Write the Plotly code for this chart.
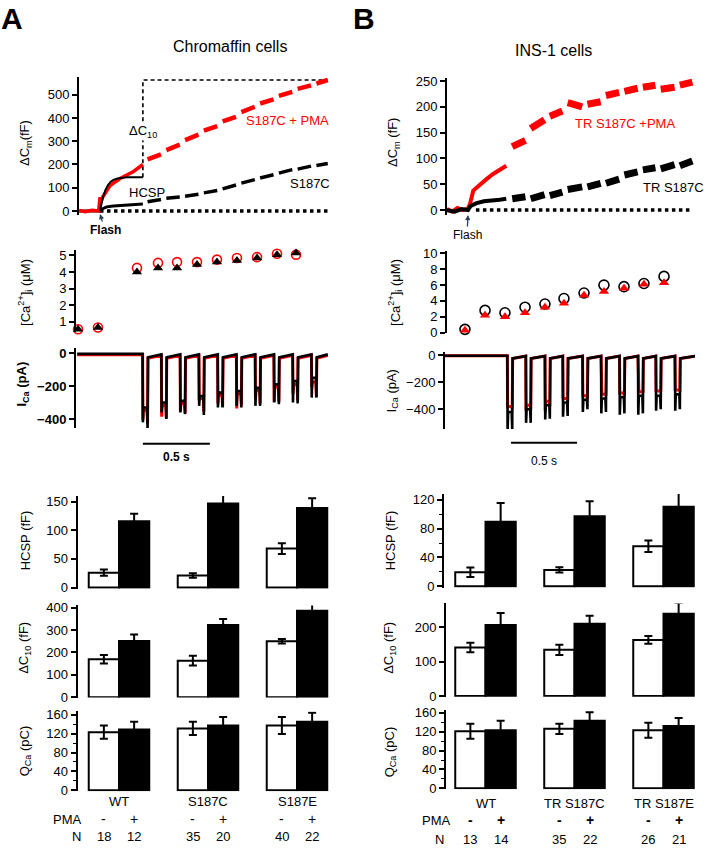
import plotly.graph_objects as go

W, H = 706, 853
FONT = "Liberation Sans, Arial, Helvetica, sans-serif"
RED = "#ff0000"

# ======================= DATA =======================
# ---- Panel A (chromaffin cells); time in s relative to flash ----
A_cm_red_early_t = [-0.155, -0.11, -0.06, -0.01, 0.0, 0.004, 0.02, 0.075, 0.15, 0.25, 0.32]
A_cm_red_early_v = [2, -3, 3, 0, 60, 35, 60, 110, 140, 170, 200]
A_cm_blk_early_t = [-0.155, 0.0, 0.02, 0.05, 0.10, 0.20, 0.32]
A_cm_blk_early_v = [0, 0, 10, 18, 22, 27, 30]
A_fit_t = [0, 0.01, 0.02, 0.04, 0.06, 0.08, 0.10, 0.13, 0.16, 0.20, 0.32]
A_fit_v = [0, 30, 55, 90, 112, 126, 134, 140, 143, 145, 145]
A_seg_t0 = [0.355, 0.495, 0.635, 0.775, 0.915, 1.055, 1.195, 1.335, 1.475, 1.615]
A_seg_t1 = [0.455, 0.595, 0.735, 0.875, 1.015, 1.155, 1.295, 1.435, 1.575, 1.700]
A_red_seg_v0 = [222, 262, 305, 345, 385, 425, 462, 495, 525, 548]
A_red_seg_v1 = [243, 285, 328, 365, 405, 448, 480, 512, 540, 563]
A_blk_seg_v0 = [40, 55, 64, 78, 95, 120, 142, 163, 180, 196]
A_blk_seg_v1 = [50, 60, 72, 88, 112, 135, 156, 178, 193, 204]
A_zero_t = [0.0, 1.70]

A_ca_t = [-0.164, -0.015, 0.276, 0.433, 0.575, 0.724, 0.873, 1.022, 1.172, 1.321, 1.463]
A_ca_red = [0.55, 0.65, 4.25, 4.55, 4.6, 4.6, 4.75, 4.85, 4.9, 5.1, 5.05]
A_ca_blk = [0.55, 0.65, 4.0, 4.25, 4.25, 4.45, 4.6, 4.7, 4.85, 5.05, 5.15]

A_pulse_t = [0.32, 0.46, 0.60, 0.74, 0.88, 1.02, 1.16, 1.30, 1.44, 1.58]
A_I_left_blk = [-420, -360, -360, -320, -330, -320, -320, -300, -300, -270]
A_I_plat_blk = [-330, -300, -290, -260, -240, -230, -210, -190, -170, -150]
A_I_right_blk = [-455, -400, -370, -375, -330, -330, -320, -310, -305, -270]
A_I_left_red = [-400, -380, -345, -280, -300, -330, -270, -290, -240, -200]
A_I_plat_red = [-340, -310, -300, -270, -250, -240, -220, -200, -185, -170]
A_I_right_red = [-420, -390, -360, -350, -320, -310, -300, -290, -280, -260]

A_groups = ["WT", "S187C", "S187E"]
A_hcsp_ctrl = [26, 21, 68]
A_hcsp_ctrl_err = [5.5, 4, 9.5]
A_hcsp_pma = [116, 147, 139]
A_hcsp_pma_err = [13, 15, 17]
A_dc10_ctrl = [170, 163, 250]
A_dc10_ctrl_err = [19, 22, 10]
A_dc10_pma = [251, 322, 386]
A_dc10_pma_err = [29, 27, 31]
A_qca_ctrl = [123, 131, 137]
A_qca_ctrl_err = [14, 14, 18]
A_qca_pma = [129, 137, 145]
A_qca_pma_err = [16, 18, 19]
A_N_ctrl = [18, 35, 40]
A_N_pma = [12, 20, 22]

# ---- Panel B (INS-1 cells) ----
B_cm_red_early_t = [-0.16, -0.12, -0.08, -0.04, 0.0, 0.015, 0.04, 0.09, 0.14, 0.19, 0.24, 0.29]
B_cm_red_early_v = [2, -3, 4, 0, 3, 12, 38, 50, 60, 70, 78, 86]
B_cm_blk_early_t = [-0.16, -0.10, -0.05, 0.0, 0.02, 0.06, 0.12, 0.18, 0.24, 0.29]
B_cm_blk_early_v = [0, -3, 2, 0, 8, 13, 17, 18, 20, 22]
B_seg_t0 = [0.335, 0.475, 0.620, 0.755, 0.905, 1.045, 1.185, 1.325, 1.460, 1.605]
B_seg_t1 = [0.435, 0.580, 0.715, 0.865, 1.005, 1.145, 1.285, 1.420, 1.565, 1.700]
B_red_seg_v0 = [123, 158, 182, 208, 205, 222, 230, 238, 234, 242]
B_red_seg_v1 = [135, 175, 192, 200, 210, 228, 236, 242, 238, 248]
B_blk_seg_v0 = [22, 22, 28, 40, 45, 52, 68, 78, 80, 86]
B_blk_seg_v1 = [26, 30, 35, 45, 52, 60, 74, 82, 88, 95]
B_zero_t = [0.06, 1.70]

B_ca_t = [-0.174, -0.023, 0.129, 0.280, 0.432, 0.583, 0.727, 0.879, 1.030, 1.182, 1.333, 1.485]
B_ca_blk = [0.4, 0.4, 2.8, 2.5, 3.2, 3.6, 4.3, 5.0, 6.0, 5.8, 6.2, 7.1]
B_ca_red = [0.3, 0.3, 2.2, 2.0, 2.5, 3.2, 3.7, 4.7, 5.2, 5.6, 6.1, 6.3]

B_pulse_t = [0.30, 0.44, 0.585, 0.72, 0.87, 1.01, 1.15, 1.29, 1.425, 1.57]
B_I_left_blk = [-545, -500, -475, -455, -420, -430, -440, -440, -410, -410]
B_I_plat_blk = [-420, -400, -370, -350, -330, -320, -310, -300, -300, -290]
B_I_right_blk = [-545, -500, -470, -450, -400, -420, -430, -430, -400, -400]
B_I_left_red = [-390, -410, -410, -315, -300, -290, -280, -270, -270, -255]
B_I_plat_red = [-380, -370, -340, -320, -300, -290, -280, -270, -265, -255]
B_I_right_red = [-400, -400, -380, -340, -320, -300, -290, -280, -270, -260]

B_groups = ["WT", "TR S187C", "TR S187E"]
B_hcsp_ctrl = [19.5, 22.7, 55.5]
B_hcsp_ctrl_err = [6.5, 3.5, 8]
B_hcsp_pma = [89.6, 97, 110.5]
B_hcsp_pma_err = [26, 21, 19]
B_dc10_ctrl = [141, 134, 163]
B_dc10_ctrl_err = [14, 15, 11]
B_dc10_pma = [206, 210, 239]
B_dc10_pma_err = [35, 23, 32]
B_qca_ctrl = [121, 126, 123]
B_qca_ctrl_err = [16, 11, 16]
B_qca_pma = [123, 143, 132]
B_qca_pma_err = [20, 18, 17]
B_N_ctrl = [13, 35, 26]
B_N_pma = [14, 22, 21]

# ======================= LAYOUT HELPERS =======================
layout = dict(width=W, height=H, margin=dict(l=0, r=0, t=0, b=0),
              paper_bgcolor="white", plot_bgcolor="rgba(0,0,0,0)",
              showlegend=False, font=dict(family=FONT, size=13, color="black"),
              barmode="group", bargap=0.32, bargroupgap=0)
annotations = []
shapes = []
traces = []


def ann(**kw):
    kw.setdefault("xanchor", "center")
    kw.setdefault("yanchor", "middle")
    annotations.append(kw)


def py(p):
    return 1 - p / H


def set_axes(n, xl, xr, yt, yb, xrange, yrange, tickvals, bold=False, minor=None, xcat=False):
    s = "" if n == 1 else str(n)
    xa = dict(domain=[xl / W, xr / W], range=xrange, visible=False,
              anchor="y" + s, fixedrange=True)
    if xcat:
        xa["type"] = "category"
    ya = dict(domain=[py(yb), py(yt)], range=yrange, anchor="x" + s,
              showline=True, linewidth=2, linecolor="black",
              ticks="outside", ticklen=5, tickwidth=1.5, tickcolor="black",
              tickvals=tickvals, showgrid=False, zeroline=False,
              tickfont=dict(size=13, family=FONT, weight="bold" if bold else "normal"),
              fixedrange=True)
    if minor:
        ya["minor"] = dict(dtick=minor, ticks="outside", ticklen=3, tickwidth=1.2,
                           tickcolor="black", showgrid=False)
    layout["xaxis" + s] = xa
    layout["yaxis" + s] = ya
    return "x" + s, "y" + s


def trng(l, r, flash, pps):
    return [(l - flash) / pps, (r - flash) / pps]


def line(xa, ya, x, y, color, width, dash=None):
    traces.append(go.Scatter(x=x, y=y, xaxis=xa, yaxis=ya, mode="lines",
                             line=dict(color=color, width=width, dash=dash),
                             hoverinfo="skip", cliponaxis=False))


def segs(t0, t1, v0, v1):
    x, y = [], []
    for a, b, c, d in zip(t0, t1, v0, v1):
        x += [a, b, None]
        y += [c, d, None]
    return x, y


def current(pulses, left, plat, right, t_start, t_end, dur):
    t = [t_start, pulses[0] - 0.002]
    v = [-5, -5]
    for k, tp in enumerate(pulses):
        t += [tp, tp + 0.004, tp + dur - 0.004, tp + dur, tp + dur + 0.003]
        v += [left[k], plat[k], plat[k], right[k], -25]
        nxt = pulses[k + 1] - 0.002 if k + 1 < len(pulses) else t_end
        t += [nxt]
        v += [-8]
    return t, v


def ylabel(x, y, text, bold=False, size=13):
    ann(x=x / W, y=py(y), xref="paper", yref="paper", text=("<b>%s</b>" % text) if bold else text,
        textangle=-90, showarrow=False, font=dict(size=size, family=FONT))


def ptext(x, y, text, size=13, color="black", bold=False):
    ann(x=x / W, y=py(y), xref="paper", yref="paper",
        text=("<b>%s</b>" % text) if bold else text, showarrow=False,
        font=dict(size=size, family=FONT, color=color))


# ======================= PANEL A =======================
A_FL, A_PPS = 100, 134.0
xa, ya = set_axes(1, 79, 330, 73, 213, trng(79, 330, A_FL, A_PPS), [-17, 576], [0, 100, 200, 300, 400, 500])
line(xa, ya, A_zero_t, [0, 0], "black", 3.5, "dot")
# dashed ΔC10 box
line(xa, ya, [A_pulse_t[0], A_pulse_t[0], A_seg_t1[-1]],
     [A_fit_v[-1], A_red_seg_v1[-1], A_red_seg_v1[-1]], "black", 1.6, "4px,3px")
line(xa, ya, A_cm_blk_early_t, A_cm_blk_early_v, "black", 3)
line(xa, ya, A_cm_red_early_t, A_cm_red_early_v, RED, 3.5)
line(xa, ya, A_fit_t, A_fit_v, "black", 2)
x, y = segs(A_seg_t0, A_seg_t1, A_blk_seg_v0, A_blk_seg_v1)
line(xa, ya, x, y, "black", 3.5)
x, y = segs(A_seg_t0, A_seg_t1, A_red_seg_v0, A_red_seg_v1)
line(xa, ya, x, y, RED, 4.5)
ann(x=A_pulse_t[0], y=343, xref=xa, yref=ya, text="ΔC<sub>10</sub>", showarrow=False,
    bgcolor="white", font=dict(size=13, family=FONT), borderpad=0)
ann(x=0.35, y=80, xref=xa, yref=ya, text="HCSP", showarrow=False, font=dict(size=13, family=FONT))
ann(x=1.40, y=390, xref=xa, yref=ya, text="S187C + PMA", showarrow=False,
    font=dict(size=13, family=FONT, color=RED))
ann(x=1.57, y=119, xref=xa, yref=ya, text="S187C", showarrow=False, font=dict(size=13, family=FONT))
ann(x=0, y=py(212), xref=xa, yref="paper", text="<b>Flash</b>", showarrow=True,
    arrowhead=2, arrowsize=0.8, arrowwidth=1.3, ax=5, ay=16, font=dict(size=12, family=FONT))
ylabel(25, 140, "ΔC<sub>m</sub>(fF)")

xa, ya = set_axes(2, 76, 330, 249, 332, trng(76, 330, A_FL, A_PPS), [0.36, 5.3], [1, 2, 3, 4, 5])
traces.append(go.Scatter(x=A_ca_t, y=A_ca_red, xaxis=xa, yaxis=ya, mode="markers", cliponaxis=False,
                         marker=dict(symbol="circle-open", size=9, color=RED, line=dict(width=1.6))))
traces.append(go.Scatter(x=A_ca_t, y=A_ca_blk, xaxis=xa, yaxis=ya, mode="markers", cliponaxis=False,
                         marker=dict(symbol="triangle-up", size=9, color="black")))
ylabel(25, 292, "[Ca<sup>2+</sup>]<sub>i</sub> (μM)")

xa, ya = set_axes(3, 76, 330, 348, 429, trng(76, 330, A_FL, A_PPS), [-454, 30], [0, -200, -400], bold=True)
t, v = current(A_pulse_t, A_I_left_red, A_I_plat_red, A_I_right_red, -0.17, 1.70, 0.035)
line(xa, ya, t, [q - 6 for q in v], RED, 3)
t, v = current(A_pulse_t, A_I_left_blk, A_I_plat_blk, A_I_right_blk, -0.17, 1.70, 0.035)
line(xa, ya, t, v, "black", 2.6)
shapes.append(dict(type="line", xref=xa, yref="paper", x0=A_pulse_t[0], x1=A_pulse_t[0] + 0.5,
                   y0=py(445), y1=py(445), line=dict(color="black", width=2)))
ann(x=A_pulse_t[0] + 0.25, y=py(458), xref=xa, yref="paper", text="<b>0.5 s</b>",
    showarrow=False, font=dict(size=12, family=FONT))
ylabel(23, 385, "I<sub>Ca</sub> (pA)", bold=True)

ptext(12, 14, "A", size=30, bold=True)
ptext(230, 42, "Chromaffin cells", size=16)

# ======================= PANEL B =======================
B_FL, B_PPS = 468, 132.0
xa, ya = set_axes(4, 447, 695, 74, 213, trng(447, 695, B_FL, B_PPS), [-9.5, 256], [0, 50, 100, 150, 200, 250])
line(xa, ya, B_zero_t, [0, 0], "black", 3.5, "dot")
line(xa, ya, B_cm_red_early_t, B_cm_red_early_v, RED, 4)
line(xa, ya, B_cm_blk_early_t, B_cm_blk_early_v, "black", 4)
x, y = segs(B_seg_t0, B_seg_t1, B_red_seg_v0, B_red_seg_v1)
line(xa, ya, x, y, RED, 7)
x, y = segs(B_seg_t0, B_seg_t1, B_blk_seg_v0, B_blk_seg_v1)
line(xa, ya, x, y, "black", 7)
ann(x=1.19, y=168, xref=xa, yref=ya, text="TR S187C +PMA", showarrow=False,
    font=dict(size=13, family=FONT, color=RED))
ann(x=1.555, y=44, xref=xa, yref=ya, text="TR S187C", showarrow=False, font=dict(size=13, family=FONT))
ann(x=0, y=py(213), xref=xa, yref="paper", text="Flash", showarrow=True,
    arrowhead=2, arrowsize=0.8, arrowwidth=1.3, ax=-1, ay=20, font=dict(size=12, family=FONT))
ylabel(393, 140, "ΔC<sub>m</sub> (fF)")

xa, ya = set_axes(5, 447, 695, 250, 333, trng(447, 695, B_FL, B_PPS), [-0.1, 10.25], [0, 2, 4, 6, 8, 10])
traces.append(go.Scatter(x=B_ca_t, y=B_ca_blk, xaxis=xa, yaxis=ya, mode="markers", cliponaxis=False,
                         marker=dict(symbol="circle-open", size=10, color="black", line=dict(width=1.6))))
traces.append(go.Scatter(x=B_ca_t, y=B_ca_red, xaxis=xa, yaxis=ya, mode="markers", cliponaxis=False,
                         marker=dict(symbol="triangle-up", size=9, color=RED)))
ylabel(395, 292, "[Ca<sup>2+</sup>]<sub>i</sub> (μM)")

xa, ya = set_axes(6, 445, 695, 352, 430, trng(445, 695, B_FL, B_PPS), [-545, 22], [0, -200, -400])
t, v = current(B_pulse_t, B_I_left_red, B_I_plat_red, B_I_right_red, -0.18, 1.72, 0.035)
line(xa, ya, t, v, RED, 3)
t, v = current(B_pulse_t, B_I_left_blk, B_I_plat_blk, B_I_right_blk, -0.18, 1.72, 0.035)
line(xa, ya, t, v, "black", 2.6)
shapes.append(dict(type="line", xref=xa, yref="paper", x0=B_pulse_t[0] + 0.026, x1=B_pulse_t[0] + 0.526,
                   y0=py(444), y1=py(444), line=dict(color="black", width=2)))
ann(x=B_pulse_t[0] + 0.276, y=py(462), xref=xa, yref="paper", text="0.5 s",
    showarrow=False, font=dict(size=12, family=FONT))
ylabel(392, 392, "I<sub>Ca</sub> (pA)")

ptext(364, 14, "B", size=30, bold=True)
ptext(553, 46, "INS-1 cells", size=16)


# ======================= BAR PANELS =======================
def bars(n, groups, ctrl, ctrl_err, pma, pma_err, xl, xr, first_c, pitch, yt, yb, yrange, tickvals, minor=None):
    xrange = [(xl - first_c) / pitch, (xr - first_c) / pitch]
    xa, ya = set_axes(n, xl, xr, yt, yb, xrange, yrange, tickvals, minor=minor, xcat=True)
    eb = dict(type="data", color="black", thickness=2, width=4)
    traces.append(go.Bar(x=groups, y=ctrl, xaxis=xa, yaxis=ya, cliponaxis=False,
                         marker=dict(color="white", line=dict(color="black", width=2)),
                         error_y=dict(array=ctrl_err, **eb)))
    traces.append(go.Bar(x=groups, y=pma, xaxis=xa, yaxis=ya, cliponaxis=False,
                         marker=dict(color="black", line=dict(color="black", width=2)),
                         error_y=dict(array=pma_err, **eb)))
    return xa


A_first_c, A_pitch = 119.0, 89.0
bars(7, A_groups, A_hcsp_ctrl, A_hcsp_ctrl_err, A_hcsp_pma, A_hcsp_pma_err, 77.5, 340, A_first_c, A_pitch,
     498, 592, [-2, 160], [0, 50, 100, 150])
bars(8, A_groups, A_dc10_ctrl, A_dc10_ctrl_err, A_dc10_pma, A_dc10_pma_err, 77.5, 340, A_first_c, A_pitch,
     609, 702.5, [-2, 410], [0, 100, 200, 300, 400])
xaA = bars(9, A_groups, A_qca_ctrl, A_qca_ctrl_err, A_qca_pma, A_qca_pma_err, 77.5, 340, A_first_c, A_pitch,
           716.5, 797.5, [-2, 167], [0, 40, 80, 120, 160], minor=20)
ylabel(25, 543, "HCSP (fF)")
ylabel(25, 652, "ΔC<sub>10</sub> (fF)")
ylabel(25, 757, "Q<sub>Ca</sub> (pC)")

B_first_c, B_pitch = 485.5, 89.0
bars(10, B_groups, B_hcsp_ctrl, B_hcsp_ctrl_err, B_hcsp_pma, B_hcsp_pma_err, 444, 700, B_first_c, B_pitch,
     496, 591, [-2, 128], [0, 40, 80, 120], minor=20)
bars(11, B_groups, B_dc10_ctrl, B_dc10_ctrl_err, B_dc10_pma, B_dc10_pma_err, 446, 700, B_first_c, B_pitch,
     607, 701.5, [-2, 269], [0, 100, 200])
xaB = bars(12, B_groups, B_qca_ctrl, B_qca_ctrl_err, B_qca_pma, B_qca_pma_err, 446, 700, B_first_c, B_pitch,
           715, 795.5, [-2, 166], [0, 40, 80, 120, 160], minor=20)
ylabel(390, 543, "HCSP (fF)")
ylabel(390, 652, "ΔC<sub>10</sub> (fF)")
ylabel(390, 758, "Q<sub>Ca</sub> (pC)")

OFF = (1 - 0.32) / 4


def group_labels(xa, groups, nctrl, npma, y_name, y_pma, y_n, x_pma_lbl, x_n_lbl, bold_sign):
    for i, g in enumerate(groups):
        ann(x=i, y=py(y_name), xref=xa, yref="paper", text=g, showarrow=False,
            font=dict(size=13, family=FONT))
        for sgn, txt, nn in ((-1, "-", nctrl[i]), (1, "+", npma[i])):
            ann(x=i + sgn * OFF, y=py(y_pma), xref=xa, yref="paper",
                text=("<b>%s</b>" % txt) if bold_sign else txt, showarrow=False,
                font=dict(size=14, family=FONT))
            ann(x=i + sgn * OFF, y=py(y_n), xref=xa, yref="paper", text=str(nn),
                showarrow=False, font=dict(size=13, family=FONT))
    ptext(x_pma_lbl, y_pma, "PMA", size=13)
    ptext(x_n_lbl, y_n, "N", size=13)


group_labels(xaA, A_groups, A_N_ctrl, A_N_pma, 808, 826, 843, 67, 76, False)
group_labels(xaB, B_groups, B_N_ctrl, B_N_pma, 810, 827, 846, 436, 439, True)

layout["annotations"] = annotations
layout["shapes"] = shapes
fig = go.Figure(data=traces, layout=layout)
fig.write_html(
    "out.html", config={"displayModeBar": False},
    post_script=(
        "var de=document.documentElement,b=document.body;"
        "de.style.margin='0';de.style.padding='0';de.style.overflow='hidden';"
        "b.style.margin='0';b.style.padding='0';b.style.overflow='hidden';"
        "var d=document.getElementById('{plot_id}');d.style.display='block';"
        "if(d.parentElement){d.parentElement.style.height='853px';d.parentElement.style.overflow='hidden';}"
    ))
